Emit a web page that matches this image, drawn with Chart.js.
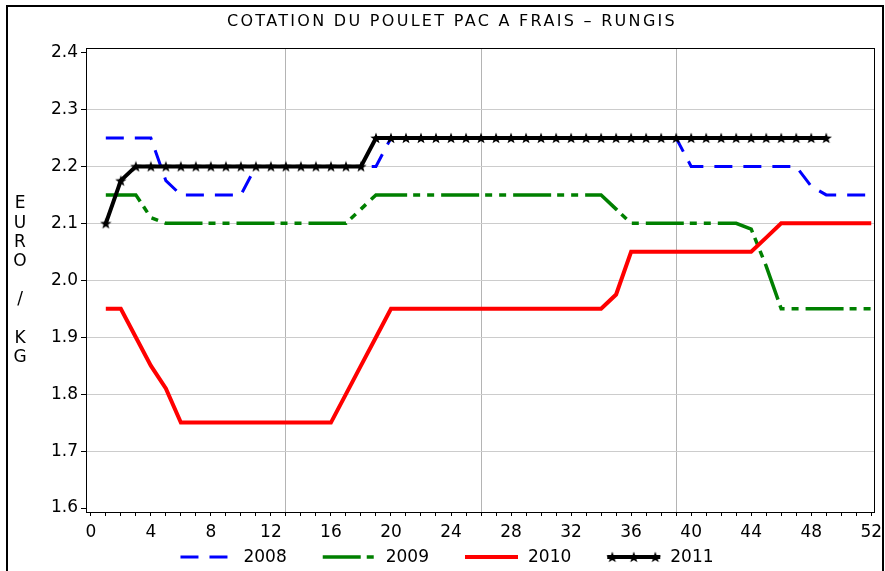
<!DOCTYPE html>
<html>
<head>
<meta charset="utf-8">
<script src="https://cdn.jsdelivr.net/npm/chart.js@4"></script>
<style>
  html, body { margin: 0; padding: 0; background: #fff; }
  canvas { display: block; }
</style>
</head>
<body>
<canvas id="chart" width="885" height="571"></canvas>
<script>
// weekly quotations, euro / kg
const weeks = [1, 2, 3, 4, 5, 6, 7, 8, 9, 10, 11, 12, 13, 14, 15, 16, 17, 18, 19, 20,
  21, 22, 23, 24, 25, 26, 27, 28, 29, 30, 31, 32, 33, 34, 35, 36, 37, 38, 39, 40,
  41, 42, 43, 44, 45, 46, 47, 48, 49, 50, 51, 52];

const y2008 = [2.25, 2.25, 2.25, 2.25, 2.175, 2.15, 2.15, 2.15, 2.15, 2.15,
  2.2, 2.2, 2.2, 2.2, 2.2, 2.2, 2.2, 2.2, 2.2, 2.25,
  2.25, 2.25, 2.25, 2.25, 2.25, 2.25, 2.25, 2.25, 2.25, 2.25,
  2.25, 2.25, 2.25, 2.25, 2.25, 2.25, 2.25, 2.25, 2.25, 2.2,
  2.2, 2.2, 2.2, 2.2, 2.2, 2.2, 2.2, 2.165, 2.15, 2.15, 2.15, 2.15];

const y2009 = [2.15, 2.15, 2.15, 2.11, 2.1, 2.1, 2.1, 2.1, 2.1, 2.1,
  2.1, 2.1, 2.1, 2.1, 2.1, 2.1, 2.1, 2.125, 2.15, 2.15,
  2.15, 2.15, 2.15, 2.15, 2.15, 2.15, 2.15, 2.15, 2.15, 2.15,
  2.15, 2.15, 2.15, 2.15, 2.125, 2.1, 2.1, 2.1, 2.1, 2.1,
  2.1, 2.1, 2.1, 2.09, 2.025, 1.95, 1.95, 1.95, 1.95, 1.95, 1.95, 1.95];

const y2010 = [1.95, 1.95, 1.9, 1.85, 1.81, 1.75, 1.75, 1.75, 1.75, 1.75,
  1.75, 1.75, 1.75, 1.75, 1.75, 1.75, 1.8, 1.85, 1.9, 1.95,
  1.95, 1.95, 1.95, 1.95, 1.95, 1.95, 1.95, 1.95, 1.95, 1.95,
  1.95, 1.95, 1.95, 1.95, 1.975, 2.05, 2.05, 2.05, 2.05, 2.05,
  2.05, 2.05, 2.05, 2.05, 2.075, 2.1, 2.1, 2.1, 2.1, 2.1, 2.1, 2.1];

const y2011 = [2.1, 2.175, 2.2, 2.2, 2.2, 2.2, 2.2, 2.2, 2.2, 2.2,
  2.2, 2.2, 2.2, 2.2, 2.2, 2.2, 2.2, 2.2, 2.25, 2.25,
  2.25, 2.25, 2.25, 2.25, 2.25, 2.25, 2.25, 2.25, 2.25, 2.25,
  2.25, 2.25, 2.25, 2.25, 2.25, 2.25, 2.25, 2.25, 2.25, 2.25,
  2.25, 2.25, 2.25, 2.25, 2.25, 2.25, 2.25, 2.25, 2.25];

const yTicks = [1.6, 1.7, 1.8, 1.9, 2.0, 2.1, 2.2, 2.3, 2.4];
const xTicks = [0].concat(weeks);
const xGridWeeks = [13, 26, 39];
const yAxisLabel = ['E', 'U', 'R', 'O', '', '/', '', 'K', 'G'];
const titleText = 'COTATION DU POULET PAC A FRAIS \u2013 RUNGIS';

const FONT = 'DejaVu Sans';
Chart.defaults.font.family = FONT;
Chart.defaults.font.size = 17;
Chart.defaults.color = '#000';

// filled five point star for the 2011 markers
function makeStar(size) {
    const c = document.createElement('canvas');
    c.width = size;
    c.height = size;
    const g = c.getContext('2d');
    const r1 = size / 2, r2 = size / 5;
    g.beginPath();
    for (let i = 0; i < 10; i++) {
        const r = i % 2 ? r2 : r1;
        const a = -Math.PI / 2 + i * Math.PI / 5;
        g.lineTo(size / 2 + r * Math.cos(a), size / 2 + 0.5 + r * Math.sin(a));
    }
    g.closePath();
    g.fillStyle = '#000';
    g.fill();
    return c;
}
const star = makeStar(12);

function toPoints(values) {
    return values.map((v, i) => ({ x: weeks[i], y: v }));
}

const framePlugin = {
    id: 'frame',
    beforeDraw(chart) {
        const ctx = chart.ctx;
        ctx.save();
        ctx.fillStyle = '#fff';
        ctx.fillRect(0, 0, chart.width, chart.height);
        ctx.strokeStyle = '#000';
        ctx.lineWidth = 2;
        ctx.strokeRect(7, 6, 876, 620);

        // title, wide spaced like the original
        ctx.font = '16px ' + FONT;
        ctx.letterSpacing = '2.3px';
        ctx.textAlign = 'center';
        ctx.textBaseline = 'middle';
        ctx.fillStyle = '#000';
        ctx.fillText(titleText, 452, 21.5);
        ctx.letterSpacing = '0px';
        ctx.restore();
    },
    afterDraw(chart) {
        const ctx = chart.ctx;
        const a = chart.chartArea;
        ctx.save();
        ctx.strokeStyle = '#000';
        ctx.lineWidth = 1;
        ctx.strokeRect(Math.round(a.left) + 0.5, Math.round(a.top) + 0.5,
            Math.round(a.right - a.left) - 1, Math.round(a.bottom - a.top));

        // vertical axis title, one letter per line
        ctx.font = '17px ' + FONT;
        ctx.textAlign = 'center';
        ctx.textBaseline = 'middle';
        ctx.fillStyle = '#000';
        yAxisLabel.forEach((ch, i) => ctx.fillText(ch, 20, 204 + i * 19.2));

        // legend
        const sample = 53, gap = 10, spacing = 36, ly = 557;
        const items = chart.data.datasets.map(ds => ({ ds, w: sample + gap + ctx.measureText(ds.label).width }));
        const total = items.reduce((s, it) => s + it.w, 0) + spacing * (items.length - 1);
        let x = 447 - total / 2;
        ctx.textAlign = 'left';
        items.forEach(({ ds, w }) => {
            ctx.save();
            ctx.strokeStyle = ds.borderColor;
            ctx.lineWidth = ds.borderWidth;
            ctx.setLineDash(ds.borderDash || []);
            ctx.beginPath();
            ctx.moveTo(x, ly);
            ctx.lineTo(x + sample, ly);
            ctx.stroke();
            ctx.restore();
            if (ds.pointStyle === star) {
                [5, 26.5, 48].forEach(dx => ctx.drawImage(star, x + dx - 6, ly - 6));
            }
            ctx.fillText(ds.label, x + sample + gap, ly + 1);
            x += w + spacing;
        });
        ctx.restore();
    }
};

new Chart(document.getElementById('chart'), {
    type: 'line',
    data: {
        datasets: [
            { label: '2008', data: toPoints(y2008), borderColor: '#0000ff', borderWidth: 3, borderDash: [18, 11], order: 3 },
            { label: '2009', data: toPoints(y2009), borderColor: '#008000', borderWidth: 3.5, borderDash: [38, 6, 7, 7, 7, 7], order: 2 },
            { label: '2010', data: toPoints(y2010), borderColor: '#ff0000', borderWidth: 4, order: 1 },
            { label: '2011', data: toPoints(y2011), borderColor: '#000000', borderWidth: 4, order: 0,
              pointStyle: star, pointRadius: 6 }
        ]
    },
    options: {
        responsive: false,
        animation: false,
        events: [],
        elements: {
            line: { tension: 0, fill: false, borderCapStyle: 'butt' },
            point: { radius: 0 }
        },
        layout: { padding: { left: 40, right: 5.5, top: 48, bottom: 29 } },
        plugins: {
            legend: { display: false },
            tooltip: { enabled: false },
            title: { display: false }
        },
        scales: {
            x: {
                type: 'linear',
                min: -0.32,
                max: 52.25,
                afterBuildTicks: s => { s.ticks = xTicks.map(v => ({ value: v })); },
                afterFit: s => { s.height = 30; s.paddingLeft = 0; s.paddingRight = 0; },
                border: { display: false },
                grid: {
                    color: c => (c.tick && xGridWeeks.includes(c.tick.value)) ? '#b4b4b4' : 'rgba(0,0,0,0)',
                    tickColor: '#000',
                    tickLength: 4
                },
                ticks: {
                    autoSkip: false,
                    maxRotation: 0,
                    padding: 6,
                    callback: v => (v % 4 === 0 ? String(v) : '')
                }
            },
            y: {
                min: 1.593,
                max: 2.408,
                afterBuildTicks: s => { s.ticks = yTicks.map(v => ({ value: v })); },
                afterFit: s => { s.width = 46; s.paddingTop = 0; s.paddingBottom = 0; },
                border: { display: false },
                grid: {
                    color: c => (c.index === 0 || c.index === yTicks.length - 1) ? 'rgba(0,0,0,0)' : '#cccccc',
                    tickColor: '#000',
                    tickLength: 5
                },
                ticks: {
                    padding: 3,
                    callback: v => Number(v).toFixed(1)
                }
            }
        }
    },
    plugins: [framePlugin]
});
</script>
</body>
</html>
